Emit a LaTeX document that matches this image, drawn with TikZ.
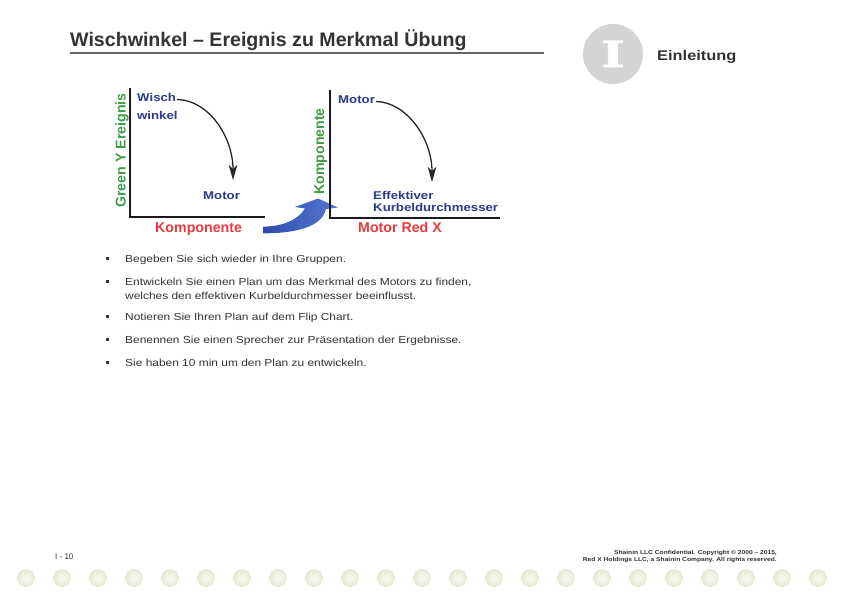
\documentclass[tikz,border=0pt]{standalone}
\usepackage{fontspec}
\setmainfont{Liberation Sans}
\newfontfamily\widesans[FakeStretch=1.17]{Liberation Sans}
\newfontfamily\slabserif[FakeStretch=1.4, FakeBold=1.6]{DejaVu Serif}
\usetikzlibrary{arrows.meta}
\definecolor{ink}{HTML}{333333}
\definecolor{navy}{HTML}{2B3A8C}
\definecolor{grn}{HTML}{3E9E45}
\definecolor{redlbl}{HTML}{E63B3F}
\definecolor{badge}{HTML}{D4D4D4}
\definecolor{holein}{HTML}{FAFAF0}
\definecolor{holeout}{HTML}{EAEAD6}
\definecolor{holeedge}{HTML}{E0E0CC}
\definecolor{flowA}{HTML}{2E4DAA}
\definecolor{flowB}{HTML}{5577D4}

\begin{document}
\begin{tikzpicture}[x=1pt,y=-1pt,
  lbl/.style={inner sep=0pt, anchor=base west},
  event/.style={lbl, font=\widesans\bfseries\fontsize{11.3}{13}\selectfont, text=navy},
  axisname/.style={inner sep=0pt, anchor=base, font=\bfseries\fontsize{14.2}{16}\selectfont},
  bullettext/.style={lbl, font=\widesans\fontsize{10.2}{12}\selectfont, text=ink},
  bulletmark/.style={fill=ink, minimum size=3pt, inner sep=0pt},
  axisline/.style={line width=2.2pt, draw=black!90},
  flowline/.style={line width=1.3pt, draw=black!85, -{Stealth[length=15pt,width=8.5pt,inset=4pt]}},
  hole/.style={inner color=holein, outer color=holeout, draw=holeedge, line width=0.4pt}
]
\fill[white] (0,0) rectangle (842,595);
\useasboundingbox (0,0) rectangle (842,595);

% heading and rule
\node[lbl, font=\bfseries\fontsize{19.6}{22}\selectfont, text=ink] (title) at (70,46)
  {Wischwinkel – Ereignis zu Merkmal Übung};
\draw[line width=1.2pt, draw=black!60] (70,53) -- (544,53);

% chapter badge
\fill[badge] (613,54) circle (30);
\node[inner sep=0pt, anchor=base, font=\slabserif\bfseries\fontsize{36}{40}\selectfont, text=white]
  (chapter) at (613,67) {I};
\node[lbl, font=\widesans\bfseries\fontsize{14}{16}\selectfont, text=ink] (section) at (657,60) {Einleitung};

% left chart: event versus component
\draw[axisline] (130,88) |- (265,217);
\node[event] (wisch) at (137,101) {Wisch};
\node[event] (winkel) at (137,119) {winkel};
\node[event] (motorL) at (203,199) {Motor};
\coordinate (tipL) at (233,180);
\draw[flowline] ([xshift=1pt,yshift=1.5pt]wisch.base east) .. controls (208,100) and (233,136) .. (tipL);
\node[axisname, text=grn, rotate=90] (eventaxis) at (125.5,150.5) {Green Y Ereignis};
\node[axisname, text=redlbl, anchor=base west] (compaxisL) at (155,232) {Komponente};

% transition arrow
\shade[left color=flowA, right color=flowB]
  (263,226.7) -- (263,233.3) .. controls (292,233.5) and (322,228) .. (326,209)
  -- (338,207.5) -- (318,198.5) -- (295,207) -- (305,208.5)
  .. controls (297,221) and (282,226.2) .. cycle;

% right chart: component versus feature
\draw[axisline] (330,90) |- (500,218);
\node[event] (motorR) at (338,103) {Motor};
\node[event] (effektiv) at (373,199) {Effektiver};
\node[event] (kurbel) at (373,211) {Kurbeldurchmesser};
\coordinate (tipR) at (432,182);
\draw[flowline] ([xshift=1pt,yshift=1.5pt]motorR.base east) .. controls (406,102) and (432,138) .. (tipR);
\node[axisname, text=grn, rotate=90] (compaxisR) at (324,151.5) {Komponente};
\node[axisname, text=redlbl, anchor=base west] (redx) at (358,232) {Motor Red X};

% task list
\node[bulletmark] (b1) at (107.5,258.5) {};
\node[bullettext] (t1) at (125,262) {Begeben Sie sich wieder in Ihre Gruppen.};
\node[bulletmark] (b2) at (107.5,281.5) {};
\node[bullettext] (t2a) at (125,285) {Entwickeln Sie einen Plan um das Merkmal des Motors zu finden,};
\node[bullettext] (t2b) at (125,299) {welches den effektiven Kurbeldurchmesser beeinflusst.};
\node[bulletmark] (b3) at (107.5,316.5) {};
\node[bullettext] (t3) at (125,320) {Notieren Sie Ihren Plan auf dem Flip Chart.};
\node[bulletmark] (b4) at (107.5,339.5) {};
\node[bullettext] (t4) at (125,343) {Benennen Sie einen Sprecher zur Präsentation der Ergebnisse.};
\node[bulletmark] (b5) at (107.5,362.5) {};
\node[bullettext] (t5) at (125,366) {Sie haben 10 min um den Plan zu entwickeln.};

% footer
\node[lbl, font=\fontsize{8}{9}\selectfont, text=ink] (pageno) at (55,559) {I - 10};
\node[inner sep=0pt, anchor=base east, font=\widesans\bfseries\fontsize{5.7}{7}\selectfont, text=ink]
  (copy1) at (777,554) {Shainin LLC Confidential. Copyright © 2000 – 2015,};
\node[inner sep=0pt, anchor=base east, font=\widesans\bfseries\fontsize{5.7}{7}\selectfont, text=ink]
  (copy2) at (777,561.5) {Red X Holdings LLC, a Shainin Company. All rights reserved.};

% binder holes
\foreach \i in {0,...,22}
  \shade[hole] ({26+36*\i},578) circle (8.5);
\end{tikzpicture}
\end{document}
